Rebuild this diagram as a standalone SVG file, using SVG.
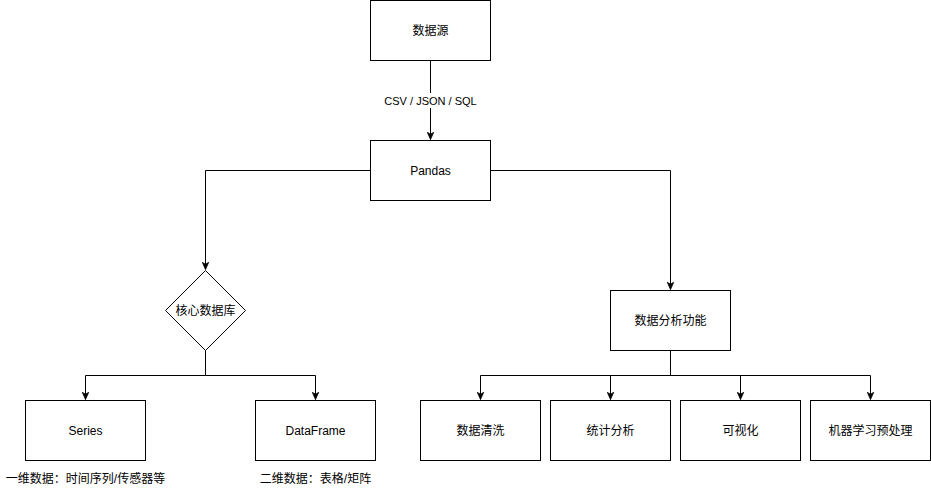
<svg xmlns="http://www.w3.org/2000/svg" width="931" height="491" viewBox="0 0 931 491">
<style>
.box{fill:#fff;stroke:#000;stroke-width:1}
.t{font-family:"Liberation Sans","Noto Sans CJK SC",sans-serif;font-size:12px;fill:#000;text-anchor:middle;dominant-baseline:central}
.edge{fill:none;stroke:#000;stroke-width:1;marker-end:url(#arr)}
</style>
<defs>
<marker id="arr" viewBox="0 0 10 10" refX="9" refY="5" markerWidth="8" markerHeight="8" markerUnits="userSpaceOnUse" orient="auto">
<path d="M0,1 L9,5 L0,9 L2.5,5 Z" fill="#000" stroke="#000" stroke-width="1"/>
</marker>
</defs>
<rect width="931" height="491" fill="#fff"/>
<g id="connectors">
<path class="edge" d="M430.5,60.5 V139.5"/>
<path class="edge" d="M370.5,170.5 H205.5 V269.5"/>
<path class="edge" d="M490.5,170.5 H670.5 V289.5"/>
<path class="edge" d="M205.5,350.5 V375.5 H85.5 V399.5"/>
<path class="edge" d="M205.5,375.5 H315.5 V399.5"/>
<path class="edge" d="M670.5,350.5 V375.5 H480.5 V399.5"/>
<path class="edge" d="M670.5,375.5 H610.5 V399.5"/>
<path class="edge" d="M670.5,375.5 H740.5 V399.5"/>
<path class="edge" d="M670.5,375.5 H870.5 V399.5"/>
<rect x="383" y="93" width="95" height="15" fill="#fff"/>
<text class="t" x="430.5" y="101" style="font-size:11px">CSV / JSON / SQL</text>
</g>
<g id="source"><rect class="box" x="370.5" y="0.5" width="120" height="60"/><text class="t" x="430.5" y="30.5">数据源</text></g>
<g id="pandas"><rect class="box" x="370.5" y="140.5" width="120" height="60"/><text class="t" x="430.5" y="170.5">Pandas</text></g>
<g id="core"><path class="box" d="M205.5,270.5 L245.5,310.5 L205.5,350.5 L165.5,310.5 Z"/><text class="t" x="205.5" y="310.5">核心数据库</text></g>
<g id="series"><rect class="box" x="25.5" y="400.5" width="120" height="60"/><text class="t" x="85.5" y="430.5">Series</text></g>
<g id="dataframe"><rect class="box" x="255.5" y="400.5" width="120" height="60"/><text class="t" x="315.5" y="430.5">DataFrame</text></g>
<g id="series-note"><text class="t" x="85.5" y="478.5">一维数据：时间序列/传感器等</text></g>
<g id="dataframe-note"><text class="t" x="315.5" y="478.5">二维数据：表格/矩阵</text></g>
<g id="analysis"><rect class="box" x="610.5" y="290.5" width="120" height="60"/><text class="t" x="670.5" y="320.5">数据分析功能</text></g>
<g id="clean"><rect class="box" x="420.5" y="400.5" width="120" height="60"/><text class="t" x="480.5" y="430.5">数据清洗</text></g>
<g id="stats"><rect class="box" x="550.5" y="400.5" width="120" height="60"/><text class="t" x="610.5" y="430.5">统计分析</text></g>
<g id="viz"><rect class="box" x="680.5" y="400.5" width="120" height="60"/><text class="t" x="740.5" y="430.5">可视化</text></g>
<g id="ml"><rect class="box" x="810.5" y="400.5" width="120" height="60"/><text class="t" x="870.5" y="430.5">机器学习预处理</text></g>
</svg>
